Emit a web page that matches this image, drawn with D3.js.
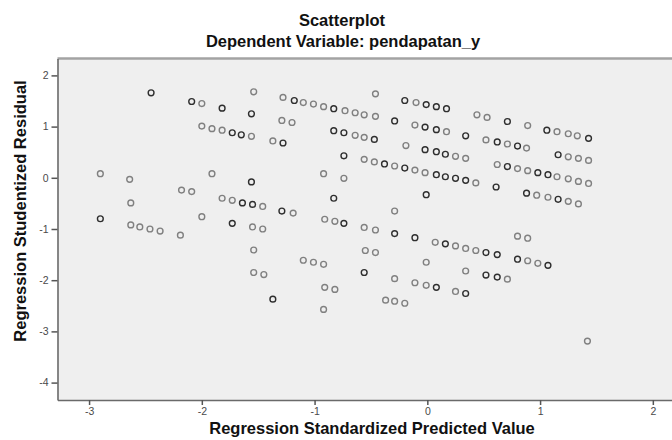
<!DOCTYPE html>
<html>
<head>
<meta charset="utf-8">
<script src="https://cdn.jsdelivr.net/npm/d3@7"></script>
<style>
  body { margin: 0; background: #fff; }
  svg text { font-family: "Liberation Sans", Arial, sans-serif; }
</style>
</head>
<body>
<div id="chart"></div>
<script>
// regression standardized predicted value (x) per case
var predicted = [
  -2.45,-2.09,-2.00,-1.82,-1.54,-1.56,-2.00,-1.91,-1.82,-1.73,
  -1.65,-1.56,-2.90,-2.64,-1.91,-1.56,-2.18,-2.09,-2.63,-1.82,
  -1.73,-1.64,-1.55,-1.46,-2.90,-2.63,-2.55,-2.46,-2.37,-2.19,
  -2.00,-1.73,-1.55,-1.46,-1.54,-1.54,-1.45,-1.28,-1.18,-1.10,
  -1.01,-0.92,-0.83,-0.73,-0.64,-0.56,-0.46,-0.46,-0.20,-0.10,
  -0.01,0.08,0.17,-1.29,-1.20,-0.83,-0.74,-0.64,-0.56,-0.47,
  -0.29,-0.11,-0.02,0.08,0.17,-1.37,-1.28,-0.74,-0.56,-0.47,
  -0.38,-0.29,-0.19,-0.02,0.08,0.16,-0.20,-0.11,-0.02,0.08,
  0.16,-0.92,-0.74,-0.83,-0.01,-1.29,-1.19,-0.29,0.44,0.53,
  0.71,0.89,1.06,1.15,1.25,1.33,1.43,0.34,0.52,0.62,
  0.71,0.80,0.88,0.25,0.34,1.16,1.25,1.34,1.43,0.62,
  0.71,0.80,0.89,0.98,1.07,1.15,1.25,1.34,1.43,0.25,
  0.34,0.43,0.61,0.88,0.97,1.07,1.16,1.25,1.34,0.80,
  0.89,0.16,0.25,0.34,0.43,0.52,0.62,0.80,0.89,0.98,
  1.07,0.34,0.52,0.62,0.71,0.25,0.34,1.42,-0.91,
  -0.82,-0.74,-0.56,-0.46,-0.29,-0.11,0.07,-1.10,-1.01,-0.92,
  -0.55,-0.46,-0.01,-0.56,-0.29,-0.11,-0.01,0.08,-0.91,-0.82,
  -1.37,-0.37,-0.29,-0.20,-0.92
]
// regression studentized residual (y) per case
var residual = [
  1.66,1.49,1.45,1.36,1.68,1.25,1.01,0.96,0.93,0.88,
  0.84,0.81,0.08,-0.03,0.08,-0.08,-0.24,-0.27,-0.49,-0.40,
  -0.44,-0.49,-0.52,-0.56,-0.80,-0.92,-0.96,-1.00,-1.04,-1.12,
  -0.76,-0.89,-0.96,-1.00,-1.41,-1.85,-1.89,1.57,1.51,1.47,
  1.44,1.39,1.35,1.31,1.27,1.23,1.20,1.64,1.51,1.47,
  1.43,1.39,1.35,1.12,1.08,0.92,0.88,0.83,0.79,0.75,
  1.11,1.03,0.99,0.94,0.90,0.72,0.68,0.43,0.36,0.31,
  0.27,0.23,0.63,0.55,0.51,0.46,0.19,0.15,0.10,0.06,
  0.02,0.08,-0.01,-0.40,-0.33,-0.65,-0.69,-0.65,1.23,1.18,
  1.10,1.02,0.93,0.90,0.86,0.82,0.77,0.82,0.74,0.70,
  0.66,0.62,0.58,0.42,0.38,0.45,0.41,0.38,0.34,0.26,
  0.22,0.18,0.14,0.10,0.06,0.02,-0.02,-0.07,-0.11,-0.01,
  -0.05,-0.10,-0.18,-0.30,-0.34,-0.38,-0.42,-0.46,-0.51,-1.14,
  -1.18,-1.29,-1.33,-1.38,-1.42,-1.46,-1.50,-1.59,-1.62,-1.67,
  -1.71,-1.82,-1.90,-1.94,-1.98,-2.22,-2.26,-3.19,-0.81,
  -0.85,-0.89,-0.97,-1.02,-1.09,-1.17,-1.26,-1.61,-1.65,-1.69,
  -1.42,-1.46,-1.65,-1.85,-1.97,-2.05,-2.10,-2.14,-2.14,-2.18,
  -2.37,-2.39,-2.41,-2.45,-2.57
]
// how many cases sit on the same spot (overlap makes the ring darker)
var caseCount = [
  2,2,1,2,1,2,1,1,1,2,
  2,1,1,1,1,2,1,1,1,1,
  1,2,2,1,2,1,1,1,1,1,
  1,2,1,1,1,1,1,1,2,1,
  1,1,2,1,1,1,1,1,2,1,
  2,2,2,1,1,2,2,1,1,2,
  2,1,2,2,1,1,2,2,1,1,
  2,1,1,2,2,2,2,1,1,2,
  2,1,1,2,2,2,1,1,1,1,
  2,1,2,1,1,1,2,2,1,2,
  1,2,1,1,1,2,1,1,1,1,
  2,1,1,2,2,1,1,1,1,2,
  2,1,2,2,1,1,2,1,1,1,
  1,2,1,1,1,2,2,2,1,1,
  2,1,2,2,1,1,2,1,1,
  1,2,1,1,2,2,1,1,1,1,
  1,1,1,2,1,1,1,2,1,1,
  2,1,1,1,1
]
var xTicks = [-3, -2, -1, 0, 1, 2]
var yTicks = [2, 1, 0, -1, -2, -3, -4]

var chartTitle = "Scatterplot"
var chartSubtitle = "Dependent Variable: pendapatan_y"
var xTitle = "Regression Standardized Predicted Value"
var yTitle = "Regression Studentized Residual"

var width = 672
var height = 440
var plotLeft = 57.5, plotRight = 672, plotTop = 58.5, plotBottom = 400

var svg = d3.select("#chart")
  .append("svg")
  .attr("width", width)
  .attr("height", height)

var x = d3.scaleLinear()
  .domain([-3.28, 2.17])
  .range([plotLeft, plotRight])

var y = d3.scaleLinear()
  .domain([2.33, -4.34])
  .range([plotTop, plotBottom])

var ringColor = d3.scaleOrdinal()
  .domain([1, 2])
  .range(["#808080", "#2e2e2e"])

// plot background
svg.append("rect")
  .attr("x", plotLeft)
  .attr("y", plotTop)
  .attr("width", plotRight - plotLeft)
  .attr("height", plotBottom - plotTop)
  .attr("fill", "#efefef")

// top frame line
svg.append("line")
  .attr("x1", plotLeft).attr("x2", plotRight)
  .attr("y1", plotTop).attr("y2", plotTop)
  .attr("stroke", "#a3a3a3")
  .attr("stroke-width", 2.5)

var points = predicted.map(function(d, i){
  return { x: d, y: residual[i], n: caseCount[i] }
})

svg.append("g")
  .selectAll("circle")
  .data(points)
  .enter()
  .append("circle")
  .attr("cx", function(d){ return x(d.x) })
  .attr("cy", function(d){ return y(d.y) })
  .attr("r", 2.9)
  .attr("fill", "none")
  .attr("stroke", function(d){ return ringColor(d.n) })
  .attr("stroke-width", 1.4)

// axes
var xAxis = svg.append("g")
  .attr("transform", "translate(0," + plotBottom + ")")
  .call(d3.axisBottom(x).tickValues(xTicks).tickSize(5).tickSizeOuter(0)
    .tickFormat(function(d){ return String(d) }))

var yAxis = svg.append("g")
  .attr("transform", "translate(" + plotLeft + ",0)")
  .call(d3.axisLeft(y).tickValues(yTicks).tickSize(6).tickSizeOuter(0)
    .tickFormat(function(d){ return String(d) }))

xAxis.select(".domain").attr("stroke", "#6a6a6a").attr("stroke-width", 1.6)
yAxis.select(".domain").attr("stroke", "#6a6a6a").attr("stroke-width", 1.6)
svg.selectAll(".tick line").attr("stroke", "#555").attr("stroke-width", 1.5)
svg.selectAll(".tick text")
  .attr("fill", "#4a4a4a")
  .style("font-size", "10.5px")
  .style("font-family", "'Liberation Sans', Arial, sans-serif")

// titles
svg.append("text")
  .attr("x", 342).attr("y", 26)
  .attr("text-anchor", "middle")
  .style("font-size", "16.5px").style("font-weight", "bold")
  .attr("fill", "#111")
  .text(chartTitle)

svg.append("text")
  .attr("x", 343).attr("y", 47)
  .attr("text-anchor", "middle")
  .style("font-size", "16.5px").style("font-weight", "bold")
  .attr("fill", "#111")
  .text(chartSubtitle)

svg.append("text")
  .attr("x", 372).attr("y", 434)
  .attr("text-anchor", "middle")
  .style("font-size", "16.5px").style("font-weight", "bold")
  .attr("fill", "#111")
  .text(xTitle)

svg.append("text")
  .attr("transform", "translate(26,211) rotate(-90)")
  .attr("text-anchor", "middle")
  .style("font-size", "16.5px").style("font-weight", "bold")
  .attr("fill", "#111")
  .text(yTitle)
</script>
</body>
</html>
